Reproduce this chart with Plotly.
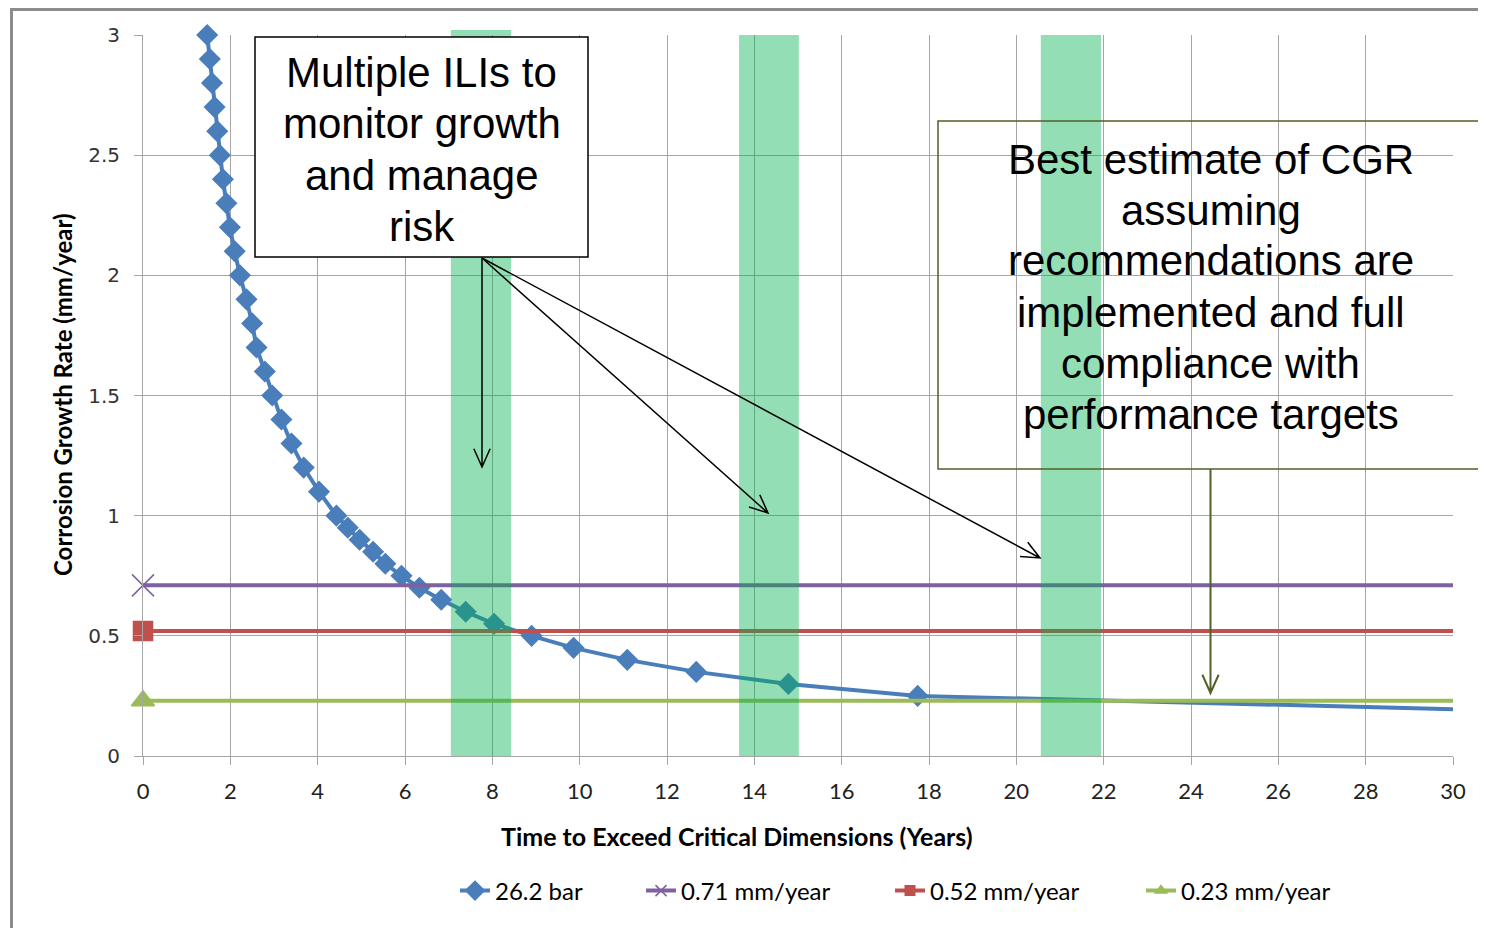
import math
import plotly.graph_objects as go

# chart data
cgr_rate = [3.0, 2.9, 2.8, 2.7, 2.6, 2.5, 2.4, 2.3, 2.2, 2.1, 2.0,
            1.9, 1.8, 1.7, 1.6, 1.5, 1.4, 1.3, 1.2, 1.1, 1.0,
            0.95, 0.9, 0.85, 0.8, 0.75, 0.7, 0.65, 0.6, 0.55, 0.5,
            0.45, 0.4, 0.35, 0.3, 0.25, 0.195]
time_years = [1.47, 1.53, 1.58, 1.64, 1.70, 1.76, 1.83, 1.91, 1.99, 2.10, 2.22,
              2.37, 2.50, 2.60, 2.79, 2.96, 3.17, 3.40, 3.68, 4.03, 4.43,
              4.69, 4.96, 5.27, 5.55, 5.92, 6.33, 6.83, 7.39, 8.04, 8.90,
              9.86, 11.09, 12.67, 14.78, 17.74, 30.0]
level_names = ["0.71 mm/year", "0.52 mm/year", "0.23 mm/year"]
level_values = [0.71, 0.52, 0.23]
level_x = [0, 30]
ili_windows = [(7.05, 8.43), (13.65, 15.02), (20.56, 21.94)]
x_ticks = list(range(0, 31, 2))
y_ticks = [0, 0.5, 1, 1.5, 2, 2.5, 3]

box1_lines = ["Multiple ILIs to", "monitor growth", "and manage", "risk"]
box2_lines = ["Best estimate of CGR", "assuming", "recommendations are",
              "implemented and full", "compliance with", "performance targets"]

# page layout (pixels in the 1486x928 window; the page body adds an 8px margin)
OFF = 8
W, H = 1486 - OFF, 928 - OFF
L, R, T, B = 143, 1453, 35, 756  # plot area, page pixels

NARROW = "Lato, Roboto, sans-serif"
ARIAL = "Liberation Sans, Arial, sans-serif"


def px(x):
    return (x - L) / (R - L)


def py(y):
    return (B - y) / (B - T)


def arrow(x0, y0, x1, y1, head=20, ang=24):
    d = math.atan2(y0 - y1, x0 - x1)
    a = math.radians(ang)
    ha = (x1 + head * math.cos(d + a), y1 + head * math.sin(d + a))
    hb = (x1 + head * math.cos(d - a), y1 + head * math.sin(d - a))
    pts = [(x0, y0), (x1, y1), ha, (x1, y1), hb]
    return "M {} {} L {} {} M {} {} L {} {} L {} {}".format(
        *[v for p in pts for v in (px(p[0]), py(p[1]))])


fig = go.Figure()

fig.add_trace(go.Scatter(
    x=time_years, y=cgr_rate, name="26.2 bar", mode="lines+markers",
    line=dict(color="#4A7EBB", width=4),
    marker=dict(symbol="diamond", size=[17] * (len(cgr_rate) - 1) + [0],
                color="#4A7EBB", opacity=1, line=dict(width=0)),
    cliponaxis=False, legend="legend",
))

styles = [
    dict(color="#7F60A0", symbol="x-thin-open", size=22),
    dict(color="#C0504D", symbol="square", size=19),
    dict(color="#9BBB59", symbol="triangle-up", size=20),
]
for k, (name, val, st) in enumerate(zip(level_names, level_values, styles)):
    fig.add_trace(go.Scatter(
        x=level_x, y=[val, val], name=name, mode="lines+markers",
        line=dict(color=st["color"], width=4),
        marker=dict(symbol=st["symbol"], size=[st["size"], 0], color=st["color"], opacity=1,
                    line=dict(color=st["color"], width=1.5)),
        cliponaxis=False, legend="legend%d" % (k + 2),
    ))

shapes = []
# outer chart frame
shapes.append(dict(type="rect", xref="paper", yref="paper", layer="below",
                   x0=px(11.5), x1=px(1700), y0=py(9.5), y1=py(1100),
                   line=dict(color="#8C8C8C", width=3), fillcolor="rgba(0,0,0,0)"))
# ILI windows
for i, (a, b) in enumerate(ili_windows):
    shapes.append(dict(type="rect", xref="x", yref="paper", layer="above",
                       x0=a, x1=b, y0=0, y1=py(30) if i == 0 else 1,
                       line=dict(width=0), fillcolor="rgba(0,176,80,0.42)"))
# box 1
shapes.append(dict(type="rect", xref="paper", yref="paper", layer="above",
                   x0=px(255), x1=px(588), y0=py(37), y1=py(257),
                   line=dict(color="black", width=1.5), fillcolor="white"))
# box 2
shapes.append(dict(type="rect", xref="paper", yref="paper", layer="above",
                   x0=px(938), x1=px(1483), y0=py(121), y1=py(469),
                   line=dict(color="#4F6228", width=1.5), fillcolor="rgba(0,0,0,0)"))
# arrows
for ex, ey in [(482, 467), (768, 513), (1040, 558)]:
    shapes.append(dict(type="path", xref="paper", yref="paper", layer="above",
                       path=arrow(482, 258, ex, ey), line=dict(color="black", width=1.5)))
shapes.append(dict(type="path", xref="paper", yref="paper", layer="above",
                   path=arrow(1210.5, 469, 1210.5, 693), line=dict(color="#4F6228", width=2)))

annotations = []
for i, t in enumerate(box1_lines):
    annotations.append(dict(text=t, xref="paper", yref="paper", x=px(421.5), y=py(73 + 51 * i),
                            xanchor="center", yanchor="middle", showarrow=False,
                            font=dict(family=ARIAL, size=42, color="black")))
for i, t in enumerate(box2_lines):
    annotations.append(dict(text=t, xref="paper", yref="paper", x=px(1210.5), y=py(159 + 51 * i),
                            xanchor="center", yanchor="middle", showarrow=False,
                            font=dict(family=ARIAL, size=42, color="black")))
annotations.append(dict(text="<b>Time to Exceed Critical Dimensions (Years)</b>",
                        xref="paper", yref="paper", x=px(737), y=py(836),
                        xanchor="center", yanchor="middle", showarrow=False,
                        font=dict(family=NARROW, size=25, color="black")))
annotations.append(dict(text="<b>Corrosion Growth Rate (mm/year)</b>",
                        xref="paper", yref="paper", x=px(62), y=py(395), textangle=-90,
                        xanchor="center", yanchor="middle", showarrow=False,
                        font=dict(family=NARROW, size=24, color="black")))

legend_style = dict(orientation="h", xanchor="left", yanchor="middle", y=py(891),
                    font=dict(family=NARROW, size=24, color="black"),
                    bgcolor="rgba(0,0,0,0)", itemsizing="trace")
legend_text_x = [495, 681, 930, 1181]

fig.update_layout(
    width=W, height=H,
    margin=dict(l=L - OFF, r=W - (R - OFF), t=T - OFF, b=H - (B - OFF)),
    paper_bgcolor="white", plot_bgcolor="white",
    showlegend=True,
    legend=dict(legend_style, x=px(legend_text_x[0] - 40)),
    legend2=dict(legend_style, x=px(legend_text_x[1] - 40)),
    legend3=dict(legend_style, x=px(legend_text_x[2] - 40)),
    legend4=dict(legend_style, x=px(legend_text_x[3] - 40)),
    shapes=shapes,
    annotations=annotations,
)
fig.update_xaxes(range=[0, 30], tickvals=x_ticks, showgrid=True, gridcolor="#A6A6A6", gridwidth=1,
                 showline=True, linecolor="#A6A6A6", linewidth=1, zeroline=False,
                 ticks="outside", ticklen=8, tickcolor="#A6A6A6", ticklabelstandoff=8,
                 tickfont=dict(family=NARROW, size=22, color="#222"))
fig.update_yaxes(range=[0, 3], tickvals=y_ticks, ticktext=["0", "0.5", "1", "1.5", "2", "2.5", "3"],
                 showgrid=True, gridcolor="#A6A6A6", gridwidth=1,
                 showline=True, linecolor="#A6A6A6", linewidth=1, zeroline=False,
                 ticks="outside", ticklen=8, tickcolor="#A6A6A6", ticklabelstandoff=10,
                 tickfont=dict(family="DejaVu Sans, Verdana, sans-serif", size=20, color="#333"))

fig.write_html("out.html")
